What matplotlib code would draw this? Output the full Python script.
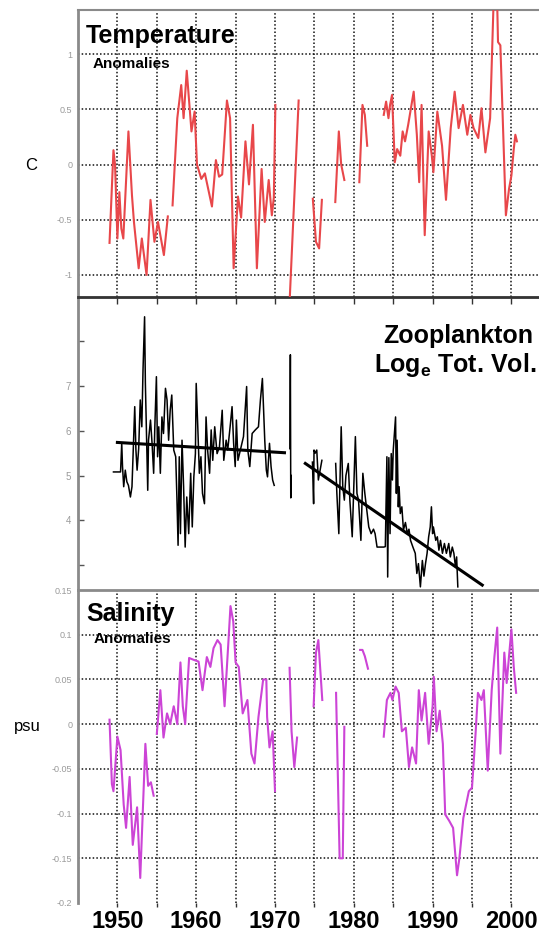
import numpy as np
import matplotlib
matplotlib.use("Agg")
import matplotlib.pyplot as plt

nan = np.nan

# ---------------- data ----------------
temp_year = [1949.0, 1949.5, 1949.7, 1950.0, 1950.25, 1950.5, 1950.75, 1951.4, 1951.85, 1952.1,
             1952.7, 1953.1, 1953.7, 1954.2, 1954.7, 1955.15, 1955.9, 1956.4, nan,
             1957.0, 1957.6, 1958.1, 1958.4, 1958.8, 1959.4, 1959.8, 1960.1, 1960.65, 1961.1,
             1962.0, 1962.5, 1962.9, 1963.3, 1963.9, 1964.3, 1964.75, 1965.3, 1965.7, 1966.25,
             1966.7, 1967.2, 1967.7, 1968.3, 1968.7, 1969.2, 1969.6, 1969.85, 1970.05, nan,
             1971.85, 1973.0, nan,
             1974.8, 1975.2, 1975.6, 1975.95, nan,
             1977.65, 1978.1, 1978.4, 1978.8, nan,
             1980.7, 1981.1, 1981.4, 1981.7, nan,
             1983.8, 1984.1, 1984.4, 1984.6, 1984.85, 1985.2, 1985.5, 1985.9, 1986.2, 1986.5,
             1986.9, 1987.6, 1988.0, 1988.3, 1988.6, 1989.0, 1989.5, 1989.9, 1990.1, 1990.6,
             1991.2, 1991.7, 1992.3, 1992.8, 1993.3, 1993.85, 1994.4, 1994.8, 1995.2, 1995.8,
             1996.2, 1996.7, 1997.3, 1997.75, 1998.2, 1998.3, 1998.6, 1999.3, 1999.7, 2000.0,
             2000.3, 2000.5, 2000.7]
temp_anom = [-0.71, 0.13, 0.0, -0.67, -0.25, -0.58, -0.67, 0.30, -0.28, -0.52,
             -0.94, -0.67, -1.0, -0.32, -0.70, -0.52, -0.82, -0.47, nan,
             -0.37, 0.42, 0.72, 0.42, 0.85, 0.30, 0.48, 0.0, -0.13, -0.08,
             -0.38, 0.04, -0.11, -0.09, 0.58, 0.42, -0.94, -0.29, -0.48, 0.21,
             -0.18, 0.36, -0.94, -0.04, -0.52, -0.14, -0.46, -0.30, 0.54, nan,
             -1.25, 0.58, nan,
             -0.31, -0.70, -0.76, -0.32, nan,
             -0.34, 0.30, 0.0, -0.14, nan,
             -0.16, 0.54, 0.45, 0.17, nan,
             0.45, 0.57, 0.42, 0.54, 0.63, 0.02, 0.14, 0.08, 0.30, 0.21,
             0.36, 0.66, 0.27, -0.16, 0.54, -0.64, 0.30, 0.08, -0.07, 0.48,
             0.17, -0.32, 0.33, 0.66, 0.33, 0.54, 0.27, 0.45, 0.33, 0.24,
             0.51, 0.11, 0.42, 1.50, 1.45, 1.11, 1.08, -0.46, -0.22, -0.10,
             0.14, 0.27, 0.21]

zoo_year = [1949.5, 1950.4, 1950.55, 1950.65, 1950.8, 1951.0, 1951.2, 1951.4, 1951.65, 1951.85,
            1952.2, 1952.35, 1952.5, 1952.7, 1952.9, 1953.1, 1953.25, 1953.45, 1953.55, 1953.65,
            1953.85, 1953.95, 1954.2, 1954.4, 1954.6, 1954.75, 1954.95, 1955.1, 1955.25, 1955.45,
            1955.65, 1955.85, 1956.1, 1956.3, 1956.5, 1956.7, 1956.9, 1957.15, 1957.4, 1957.55,
            1957.7, 1957.85, 1958.0, 1958.2, 1958.4, 1958.6, 1958.8, 1959.05, 1959.3, 1959.5,
            1959.7, 1959.9, 1960.0, 1960.2, 1960.4, 1960.6, 1960.8, 1961.05, 1961.25, 1961.45,
            1961.7, 1961.9, 1962.1, 1962.35, 1962.65, 1962.95, 1963.3, 1963.5, 1963.8, 1964.0,
            1964.35, 1964.55, 1964.75, 1964.95, 1965.1, 1965.3, 1965.6, 1966.0, 1966.4, 1966.55,
            1966.8, 1967.1, 1967.5, 1967.9, 1968.15, 1968.4, 1968.55, 1968.7, 1968.9, 1969.05,
            1969.3, 1969.5, 1969.7, 1969.9, nan,
            1971.9, 1971.95, 1972.0, 1972.05, nan,
            1974.75, 1974.9, 1974.95, 1975.1, 1975.3, 1975.5, 1975.7, 1975.95, nan,
            1977.7, 1977.85, 1978.1, 1978.25, 1978.4, 1978.6, 1978.8, 1979.0, 1979.3, 1979.5,
            1979.8, 1980.0, 1980.2, 1980.4, 1980.6, 1980.9, 1981.15, 1981.4, 1981.6, 1981.9,
            1982.2, 1982.5, 1982.7, 1982.95, 1983.8, 1984.0, 1984.2, 1984.3, 1984.45, 1984.6,
            1984.75, 1984.9, 1985.0, 1985.3, 1985.4, 1985.5, 1985.65, 1985.75, 1985.9, 1986.1,
            1986.3, 1986.55, 1986.8, 1987.0, 1987.2, 1987.5, 1987.8, 1988.0, 1988.2, 1988.45,
            1988.7, 1988.9, 1989.1, 1989.3, 1989.5, 1989.7, 1989.85, 1990.0, 1990.1, 1990.4,
            1990.6, 1990.8, 1991.0, 1991.25, 1991.5, 1991.75, 1992.05, 1992.25, 1992.5, 1992.7,
            1992.9, 1993.05, 1993.2]
zoo_logvol = [5.08, 5.08, 5.72, 5.2, 4.75, 5.12, 4.86, 4.78, 4.52, 4.75,
              6.54, 5.57, 5.12, 5.6, 6.69, 6.09, 7.36, 8.55, 7.06, 6.24,
              4.67, 5.79, 6.24, 5.72, 5.05, 6.09, 7.21, 5.42, 6.09, 5.05,
              6.31, 5.94, 6.95, 6.69, 5.79, 6.46, 6.80, 5.57, 5.42, 4.52,
              3.44, 5.42, 3.70, 5.79, 4.75, 3.40, 4.52, 3.70, 5.05, 3.85,
              4.97, 5.49, 7.06, 6.09, 5.05, 5.42, 4.60, 4.37, 6.31, 5.57,
              5.05, 6.02, 5.34, 6.09, 5.49, 5.64, 6.46, 5.34, 5.79, 5.57,
              6.17, 6.54, 5.72, 5.20, 6.24, 5.34, 5.57, 5.87, 6.99, 5.57,
              5.20, 5.94, 6.02, 6.09, 6.69, 7.17, 6.46, 5.79, 5.12, 4.97,
              5.72, 5.20, 4.90, 4.78, nan,
              5.6, 7.7, 4.5, 5.0, nan,
              5.3, 4.37, 5.57, 5.5, 5.57, 4.9, 5.1, 5.34, nan,
              5.27, 4.60, 3.70, 4.90, 6.09, 4.75, 4.45, 5.0, 5.27, 4.45,
              3.63, 4.75, 5.87, 4.60, 4.45, 3.55, 5.05, 4.60, 4.30, 3.85,
              3.70, 3.80, 3.70, 3.40, 3.40, 3.41, 5.42, 2.73, 5.40, 3.70,
              5.49, 4.90, 5.55, 6.31, 4.60, 5.79, 4.30, 4.75, 4.15, 4.30,
              3.78, 3.95, 3.70, 3.80, 3.55, 3.40, 3.26, 2.81, 3.03, 2.51,
              3.10, 2.75, 3.03, 3.26, 3.63, 3.85, 4.30, 3.70, 3.85, 3.55,
              3.63, 3.33, 3.55, 3.26, 3.48, 3.26, 3.48, 3.18, 3.40, 3.26,
              2.96, 3.18, 2.51]

trend_early_year = [1950.0, 1971.2]
trend_early_val = [5.74, 5.51]
trend_late_year = [1973.85, 1996.3]
trend_late_val = [5.27, 2.55]

sal_year = [1949.0, 1949.3, 1949.5, 1950.0, 1950.4, 1950.8, 1951.1, 1951.55, 1951.95, 1952.5,
            1952.9, 1953.55, 1953.9, 1954.25, 1954.6, nan,
            1955.0, 1955.45, 1955.85, 1956.3, 1956.7, 1957.15, 1957.6, 1958.0, 1958.3, 1958.6,
            1959.1, 1959.65, 1960.3, 1960.8, 1961.35, 1961.8, 1962.2, 1962.7, 1963.1, 1963.6,
            1964.1, 1964.35, 1964.7, 1965.0, 1965.4, 1965.9, 1966.5, 1967.0, 1967.4, 1967.9,
            1968.5, 1968.9, 1969.0, 1969.3, 1969.7, 1970.0, nan,
            1971.85, 1972.1, 1972.45, 1972.8, nan,
            1974.9, 1975.2, 1975.5, 1976.0, nan,
            1977.75, 1978.2, 1978.6, 1978.8, nan,
            1980.8, 1981.1, 1981.4, 1981.8, nan,
            1983.8, 1984.2, 1984.65, 1984.9, 1985.3, 1985.7, 1986.1, 1986.6, 1987.0, 1987.4,
            1987.9, 1988.25, 1988.6, 1989.05, 1989.5, 1990.0, 1990.15, 1990.5, 1990.9, 1991.3,
            1991.6, 1992.1, 1992.6, 1993.1, 1993.4, 1993.9, 1994.6, 1995.0, 1995.45, 1995.75,
            1996.2, 1996.5, 1997.0, 1997.5, 1997.85, 1998.2, 1998.6, 1999.1, 1999.4, 2000.0,
            2000.3, 2000.6]
sal_anom = [0.005, -0.067, -0.075, -0.014, -0.029, -0.090, -0.116, -0.059, -0.135, -0.093,
            -0.172, -0.022, -0.069, -0.065, -0.080, nan,
            -0.011, 0.038, -0.015, 0.012, 0.0, 0.020, 0.0, 0.069, 0.020, 0.0,
            0.074, 0.072, 0.070, 0.038, 0.075, 0.064, 0.085, 0.094, 0.089, 0.020,
            0.094, 0.132, 0.115, 0.069, 0.064, 0.012, 0.027, -0.033, -0.044, 0.008,
            0.050, 0.050, 0.008, -0.026, -0.008, -0.075, nan,
            0.063, -0.008, -0.048, -0.015, nan,
            0.020, 0.080, 0.094, 0.027, nan,
            0.035, -0.150, -0.150, -0.003, nan,
            0.083, 0.083, 0.076, 0.062, nan,
            -0.014, 0.027, 0.035, 0.027, 0.042, 0.035, -0.008, -0.004, -0.048, -0.026,
            -0.044, 0.038, 0.004, 0.035, -0.022, 0.020, 0.053, -0.008, 0.015, -0.022,
            -0.101, -0.108, -0.116, -0.169, -0.150, -0.105, -0.075, -0.071, -0.011, 0.035,
            0.027, 0.038, -0.052, 0.038, 0.076, 0.108, -0.033, 0.080, 0.046, 0.106,
            0.064, 0.035]

year_ticks = [1950, 1955, 1960, 1965, 1970, 1975, 1980, 1985, 1990, 1995, 2000]
year_labels = ["1950", "", "1960", "", "1970", "", "1980", "", "1990", "", "2000"]
temp_ticks = [1, 0.5, 0, -0.5, -1]
temp_tick_labels = ["1", "0.5", "0", "-0.5", "-1"]
zoo_ticks = [3, 4, 5, 6, 7, 8]
zoo_tick_labels = ["", "4", "5", "6", "7", ""]
sal_ticks = [0.15, 0.1, 0.05, 0, -0.05, -0.1, -0.15, -0.2]
sal_tick_labels = ["0.15", "0.1", "0.05", "0", "-0.05", "-0.1", "-0.15", "-0.2"]
sal_grid = [0.1, 0.05, 0, -0.05, -0.1, -0.15]

# ---------------- style ----------------
plt.rcParams["font.family"] = ["Liberation Sans", "DejaVu Sans"]
plt.rcParams["mathtext.fontset"] = "custom"
plt.rcParams["mathtext.rm"] = "Liberation Sans"
plt.rcParams["mathtext.bf"] = "Liberation Sans:bold"

W, H = 539, 936
fig = plt.figure(figsize=(W / 100, H / 100), dpi=100)
fig.patch.set_facecolor("white")

XMIN, XMAX = 1945, 2005
left = 78 / W
width = (XMAX - XMIN) * 7.88 / W


def panel(top_px, bottom_px):
    return fig.add_axes([left, 1 - bottom_px / H, width, (bottom_px - top_px) / H])


def px(x, y):
    return x / W, 1 - y / H


GRID_KW = dict(color="#111111", lw=1.1, ls=(0, (1, 1.4)), zorder=1)
TICK_GRAY = "#9a9a9a"
SPINE_GRAY = "#8a8a8a"
TITLE_SIZE = 18
SUB_SIZE = 11

# ---- temperature ----
ax1 = panel(10, 297)
ax1.set_xlim(XMIN, XMAX)
ax1.set_ylim(-1.2, 1.4)
for yr in year_ticks:
    ax1.axvline(yr, **GRID_KW)
for v in temp_ticks:
    ax1.axhline(v, **GRID_KW)
ax1.plot(temp_year, temp_anom, color="#e8474a", lw=1.5, zorder=3)
ax1.set_yticks(temp_ticks)
ax1.set_yticklabels(temp_tick_labels)
ax1.set_xticks([])
ax1.tick_params(axis="y", length=0, labelsize=6.5, labelcolor=TICK_GRAY, pad=4)
ax1.spines["right"].set_visible(False)
ax1.spines["left"].set_color(SPINE_GRAY)
ax1.spines["left"].set_linewidth(2)
ax1.spines["top"].set_color(SPINE_GRAY)
ax1.spines["top"].set_linewidth(1.5)
ax1.spines["bottom"].set_color("#333333")
ax1.spines["bottom"].set_linewidth(1.3)

# ---- zooplankton ----
ax2 = panel(298, 590)
ax2.set_xlim(XMIN, XMAX)
ax2.set_ylim(2.44, 8.97)
ax2.plot(zoo_year, zoo_logvol, color="black", lw=1.1, zorder=3)
ax2.plot(trend_early_year, trend_early_val, color="black", lw=2.2, zorder=4)
ax2.plot(trend_late_year, trend_late_val, color="black", lw=2.2, zorder=4)
ax2.set_yticks(zoo_ticks)
ax2.set_yticklabels(zoo_tick_labels)
ax2.tick_params(axis="y", direction="in", length=4, width=1, color="#555555",
                labelsize=7, labelcolor=TICK_GRAY, pad=5)
ax2.set_xticks(year_ticks)
ax2.tick_params(axis="x", direction="in", length=4, width=1, color="#333333",
                bottom=False, top=True, labelbottom=False, labeltop=False)
for s in ("right", "bottom"):
    ax2.spines[s].set_visible(False)
ax2.spines["left"].set_color(SPINE_GRAY)
ax2.spines["left"].set_linewidth(2)
ax2.spines["top"].set_color("#333333")
ax2.spines["top"].set_linewidth(1.3)

# ---- salinity ----
ax3 = panel(590, 903)
ax3.set_xlim(XMIN, XMAX)
ax3.set_ylim(-0.2, 0.15)
for yr in year_ticks:
    ax3.axvline(yr, **GRID_KW)
for v in sal_grid:
    ax3.axhline(v, **GRID_KW)
ax3.plot(sal_year, sal_anom, color="#cc44d6", lw=1.5, zorder=3)
ax3.set_yticks(sal_ticks)
ax3.set_yticklabels(sal_tick_labels)
ax3.tick_params(axis="y", length=0, labelsize=6.5, labelcolor=TICK_GRAY, pad=4)
ax3.set_xticks(year_ticks)
ax3.set_xticklabels(year_labels, fontweight="bold")
ax3.tick_params(axis="x", direction="out", length=3, width=1, color="#333333",
                labelsize=17, labelcolor="black", pad=2)
for s in ("right", "bottom"):
    ax3.spines[s].set_visible(False)
ax3.spines["left"].set_color(SPINE_GRAY)
ax3.spines["left"].set_linewidth(2)
ax3.spines["top"].set_color(SPINE_GRAY)
ax3.spines["top"].set_linewidth(2)

# ---- labels ----
fig.text(*px(86, 43), "Temperature", fontsize=TITLE_SIZE, fontweight="bold", va="baseline", ha="left")
fig.text(*px(93, 68), "Anomalies", fontsize=SUB_SIZE, fontweight="bold", va="baseline", ha="left")
fig.text(*px(31, 166), "C", fontsize=12, va="center", ha="center")

fig.text(*px(533, 343), "Zooplankton", fontsize=TITLE_SIZE, fontweight="bold", va="baseline", ha="right")
fig.text(*px(536, 372), r"Log$_{\mathbf{e}}$ Tot. Vol.", fontsize=TITLE_SIZE, fontweight="bold",
         va="baseline", ha="right")

fig.text(*px(86, 621), "Salinity", fontsize=TITLE_SIZE, fontweight="bold", va="baseline", ha="left")
fig.text(*px(94, 643), "Anomalies", fontsize=SUB_SIZE, fontweight="bold", va="baseline", ha="left")
fig.text(*px(27, 727), "psu", fontsize=12, va="center", ha="center")

fig.savefig("out.png", dpi=100, facecolor="white")
